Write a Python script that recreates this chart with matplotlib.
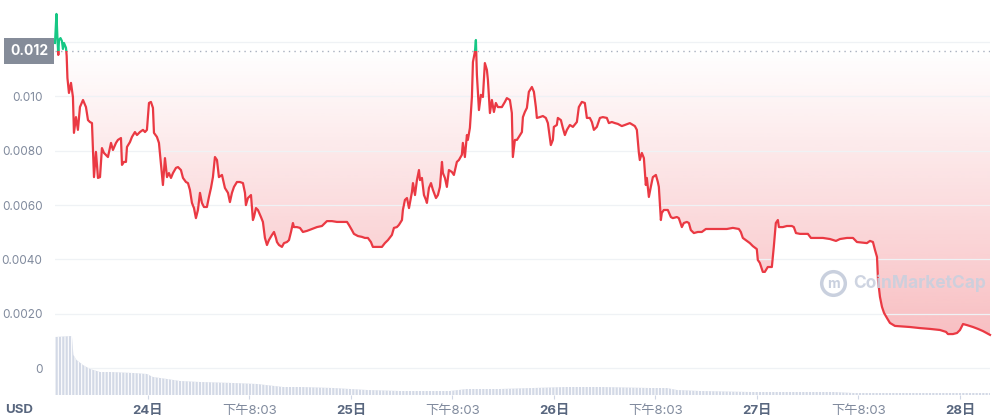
import matplotlib
matplotlib.use("Agg")
import matplotlib.pyplot as plt
import numpy as np
from matplotlib.patches import Polygon, Rectangle
from matplotlib.lines import Line2D
from matplotlib.colors import to_rgb
from matplotlib.transforms import blended_transform_factory

plt.rcParams['font.family'] = ['Inter', 'Noto Sans CJK SC', 'DejaVu Sans']
plt.rcParams['hatch.linewidth'] = 0.8

# price, hours after 24日 00:00
hours = [
    -10.99, -10.82, -10.70, -10.60, -10.52, -10.34, -10.17, -10.05, -9.93, -9.69,
    -9.61, -9.52, -9.34, -9.10, -8.87, -8.75, -8.51, -8.28, -8.04, -7.68,
    -7.33, -7.09, -6.86, -6.62, -6.38, -6.15, -5.91, -5.67, -5.44, -5.20,
    -4.73, -4.37, -4.14, -3.78, -3.55, -3.19, -3.07, -2.84, -2.60, -2.48,
    -2.13, -1.89, -1.54, -1.30, -0.95, -0.59, -0.35, -0.12, 0.12, 0.35,
    0.59, 0.71, 1.06, 1.30, 1.54, 1.77, 2.01, 2.25, 2.48, 2.72,
    2.96, 3.31, 3.55, 3.90, 4.14, 4.49, 4.73, 4.96, 5.20, 5.44,
    5.67, 5.91, 6.15, 6.38, 6.62, 6.97, 7.21, 7.45, 7.68, 7.92,
    8.16, 8.39, 8.75, 9.10, 9.46, 9.69, 9.93, 10.17, 10.52, 10.87,
    11.23, 11.47, 11.58, 11.82, 12.18, 12.29, 12.41, 12.53, 12.77, 13.00,
    13.36, 13.59, 13.83, 14.07, 14.30, 14.66, 14.90, 15.13, 15.25, 15.49,
    15.84, 16.08, 16.43, 16.67, 16.91, 17.14, 17.26, 17.61, 17.97, 18.32,
    18.80, 19.39, 19.98, 20.57, 20.93, 21.16, 21.75, 22.34, 22.93, 23.53,
    23.76, 24.11, 24.35, 24.82, 25.29, 25.65, 26.00, 26.36, 26.59, 27.07,
    27.66, 28.01, 28.37, 28.84, 29.08, 29.43, 29.67, 30.03, 30.14, 30.38,
    30.62, 30.86, 31.21, 31.33, 31.57, 31.80, 32.04, 32.16, 32.39, 32.63,
    32.87, 32.98, 33.22, 33.46, 33.69, 34.05, 34.28, 34.52, 34.76, 34.87,
    35.11, 35.34, 35.58, 35.93, 36.17, 36.52, 36.76, 37.11, 37.23, 37.47,
    37.71, 37.82, 38.06, 38.30, 38.42, 38.65, 38.77, 38.89, 39.13, 39.36,
    39.60, 39.83, 40.07, 40.19, 40.43, 40.66, 40.90, 41.13, 41.37, 41.84,
    42.20, 42.43, 42.79, 43.02, 43.14, 43.38, 43.62, 43.85, 44.21, 44.33,
    44.56, 44.80, 45.03, 45.39, 45.63, 45.86, 45.98, 46.33, 46.69, 47.04,
    47.28, 47.63, 47.87, 47.99, 48.34, 48.46, 48.82, 49.05, 49.29, 49.53,
    49.88, 50.24, 50.71, 50.94, 51.30, 51.65, 51.89, 52.24, 52.48, 52.72,
    53.07, 53.43, 53.78, 54.25, 54.49, 54.84, 55.20, 55.55, 56.02, 56.38,
    56.97, 57.56, 57.80, 58.04, 58.15, 58.39, 58.63, 58.86, 58.98, 59.22,
    59.45, 59.69, 60.05, 60.28, 60.40, 60.64, 60.75, 60.99, 61.46, 61.82,
    62.05, 62.53, 62.76, 63.12, 63.35, 63.71, 63.95, 64.18, 64.54, 65.01,
    65.48, 65.96, 66.78, 67.61, 68.44, 69.15, 69.86, 70.09, 70.33, 70.80,
    71.16, 71.51, 71.98, 72.10, 72.34, 72.69, 72.93, 73.28, 73.76, 73.99,
    74.23, 74.47, 74.59, 75.06, 75.53, 76.12, 76.36, 76.61, 77.08, 78.02,
    78.38, 79.09, 79.80, 80.63, 81.34, 81.81, 82.64, 83.35, 83.82, 85.00,
    85.36, 85.71, 85.95, 86.19, 86.31, 86.54, 86.78, 87.02, 87.37, 87.72,
    88.31, 90.09, 91.27, 92.45, 93.64, 94.35, 94.58, 95.17, 95.65, 96.00,
    96.36, 96.83, 97.54, 98.13, 98.72, 99.55]

price = [
    0.01197, 0.01304, 0.01215, 0.01153, 0.01208, 0.01215, 0.01204, 0.01175, 0.01197, 0.01179,
    0.01149, 0.01068, 0.01013, 0.01050, 0.00998, 0.00866, 0.00924, 0.00877, 0.00961, 0.00987,
    0.00961, 0.00913, 0.00906, 0.00902, 0.00703, 0.00796, 0.00700, 0.00703, 0.00810, 0.00792,
    0.00777, 0.00829, 0.00803, 0.00829, 0.00840, 0.00847, 0.00748, 0.00759, 0.00759, 0.00814,
    0.00832, 0.00851, 0.00869, 0.00858, 0.00869, 0.00877, 0.00869, 0.00877, 0.00976, 0.00980,
    0.00958, 0.00866, 0.00851, 0.00829, 0.00748, 0.00674, 0.00773, 0.00703, 0.00718, 0.00700,
    0.00718, 0.00737, 0.00740, 0.00729, 0.00700, 0.00685, 0.00681, 0.00656, 0.00608, 0.00589,
    0.00552, 0.00582, 0.00645, 0.00608, 0.00593, 0.00593, 0.00630, 0.00663, 0.00703, 0.00777,
    0.00766, 0.00703, 0.00711, 0.00663, 0.00645, 0.00611, 0.00645, 0.00667, 0.00685, 0.00685,
    0.00681, 0.00645, 0.00600, 0.00626, 0.00637, 0.00593, 0.00545, 0.00556, 0.00589, 0.00582,
    0.00556, 0.00538, 0.00479, 0.00453, 0.00471, 0.00490, 0.00501, 0.00479, 0.00464, 0.00453,
    0.00446, 0.00460, 0.00464, 0.00471, 0.00501, 0.00534, 0.00519, 0.00519, 0.00516, 0.00501,
    0.00505, 0.00512, 0.00519, 0.00523, 0.00534, 0.00541, 0.00541, 0.00538, 0.00538, 0.00538,
    0.00527, 0.00508, 0.00494, 0.00486, 0.00483, 0.00479, 0.00479, 0.00464, 0.00446, 0.00446,
    0.00446, 0.00460, 0.00471, 0.00490, 0.00516, 0.00519, 0.00527, 0.00545, 0.00582, 0.00619,
    0.00626, 0.00589, 0.00648, 0.00681, 0.00637, 0.00692, 0.00729, 0.00692, 0.00700, 0.00637,
    0.00619, 0.00608, 0.00663, 0.00681, 0.00656, 0.00626, 0.00637, 0.00667, 0.00759, 0.00718,
    0.00700, 0.00667, 0.00729, 0.00722, 0.00711, 0.00759, 0.00766, 0.00785, 0.00829, 0.00777,
    0.00858, 0.00840, 0.00884, 0.00998, 0.01127, 0.01164, 0.01208, 0.01079, 0.00950, 0.01006,
    0.00998, 0.01123, 0.01098, 0.01061, 0.00939, 0.00987, 0.00943, 0.00976, 0.00961, 0.00961,
    0.00980, 0.00994, 0.00987, 0.00939, 0.00777, 0.00840, 0.00840, 0.00851, 0.00869, 0.00924,
    0.00943, 0.00958, 0.01017, 0.01035, 0.01017, 0.00961, 0.00921, 0.00924, 0.00928, 0.00921,
    0.00902, 0.00821, 0.00840, 0.00888, 0.00895, 0.00921, 0.00913, 0.00884, 0.00858, 0.00877,
    0.00895, 0.00888, 0.00906, 0.00961, 0.00980, 0.00976, 0.00921, 0.00921, 0.00906, 0.00877,
    0.00888, 0.00921, 0.00924, 0.00921, 0.00902, 0.00906, 0.00902, 0.00899, 0.00891, 0.00895,
    0.00902, 0.00891, 0.00877, 0.00792, 0.00766, 0.00792, 0.00773, 0.00674, 0.00700, 0.00630,
    0.00667, 0.00703, 0.00711, 0.00685, 0.00667, 0.00545, 0.00571, 0.00582, 0.00582, 0.00556,
    0.00552, 0.00556, 0.00552, 0.00519, 0.00534, 0.00538, 0.00534, 0.00508, 0.00497, 0.00501,
    0.00501, 0.00512, 0.00512, 0.00512, 0.00512, 0.00516, 0.00512, 0.00501, 0.00479, 0.00468,
    0.00460, 0.00449, 0.00438, 0.00398, 0.00387, 0.00354, 0.00354, 0.00372, 0.00372, 0.00446,
    0.00534, 0.00545, 0.00519, 0.00519, 0.00523, 0.00523, 0.00519, 0.00497, 0.00494, 0.00494,
    0.00479, 0.00479, 0.00479, 0.00475, 0.00468, 0.00475, 0.00479, 0.00479, 0.00464, 0.00460,
    0.00468, 0.00464, 0.00435, 0.00409, 0.00324, 0.00262, 0.00225, 0.00203, 0.00184, 0.00166,
    0.00155, 0.00151, 0.00147, 0.00144, 0.00140, 0.00133, 0.00125, 0.00125, 0.00129, 0.00140,
    0.00162, 0.00158, 0.00151, 0.00144, 0.00136, 0.00122]

base_price = 0.01168   # opening price, the dotted reference line

# volume (relative units)
vol_hours = [-10.99, -8.99, -8.81, -8.44, -7.68, -6.86, -5.67, -4.49, -1.77, -0.12,
             0.59, 2.25, 3.78, 6.15, 10.05, 12.89, 15.96, 17.97, 21.87, 23.88,
             25.89, 29.79, 35.70, 37.71, 41.61, 49.53, 53.43, 59.34, 61.34, 62.53,
             65.25, 71.16, 80.99, 83.35, 99.55]
vol = [58, 59, 40, 35, 30, 26, 23, 23, 22, 21,
       18, 16, 14, 13, 12, 11, 8, 8, 7, 6,
       5, 4, 4, 6, 6, 8, 8, 7, 7, 5,
       4, 3, 3, 2, 2]

x_ticks = [0, 12, 24, 36, 48, 60, 72, 84, 96]
x_labels = ['24日', '下午8:03', '25日', '下午8:03', '26日', '下午8:03', '27日', '下午8:03', '28日']
y_ticks = [0, 0.002, 0.004, 0.006, 0.008, 0.010, 0.012]
y_labels = ['0', '0.0020', '0.0040', '0.0060', '0.0080', '0.010', '0.012']

RED = '#ea3943'
GREEN = '#16c784'
t_min, t_max = -10.99, 99.55
y_min, y_max = -0.000994, 0.013369

fig = plt.figure(figsize=(10, 4.2), dpi=100)
rect = [0.055, 25 / 420, 0.935, 390 / 420]
ax = fig.add_axes(rect, zorder=1)
axv = fig.add_axes(rect, zorder=2)
axv.patch.set_alpha(0)

t = np.array(hours)
p = np.array(price)

# gradient fill between the line and the reference line
lower = np.minimum(p, base_price)
verts = np.column_stack([np.r_[t, t[::-1]], np.r_[lower, np.full(len(t), base_price)]])
poly = Polygon(verts, closed=True, transform=ax.transData, facecolor='none', edgecolor='none')
ax.add_patch(poly)
n = 256
grad = np.zeros((n, 1, 4))
grad[..., :3] = to_rgb(RED)
grad[:, 0, 3] = np.linspace(0.36, 0.0, n)
im = ax.imshow(grad, extent=[t_min, t_max, 0, base_price], origin='lower',
               aspect='auto', interpolation='bilinear', zorder=1)
im.set_clip_path(poly)

red_line, = ax.plot(t, p, color=RED, lw=1.6, zorder=3, solid_joinstyle='round')
red_line.set_clip_path(Rectangle((t_min - 10, -1), 200, 1 + base_price, transform=ax.transData))
green_line, = ax.plot(t, p, color=GREEN, lw=1.6, zorder=3, solid_joinstyle='round')
green_line.set_clip_path(Rectangle((t_min - 10, base_price), 200, 1, transform=ax.transData))

ax.axhline(base_price, color='#a8b0bf', lw=1, ls=(0, (1, 3)), zorder=2)

ax.set_xlim(t_min, t_max)
ax.set_ylim(y_min, y_max)
ax.set_yticks(y_ticks)
ax.set_yticklabels(y_labels)
ax.set_xticks(x_ticks)
ax.set_xticklabels(x_labels)
ax.yaxis.grid(True, color='#eff2f5', lw=0.9)
for s in ax.spines.values():
    s.set_visible(False)
ax.tick_params(axis='y', length=0, pad=9, labelcolor='#808a9d', labelsize=8.5)
ax.tick_params(axis='x', length=3, color='#cfd6e4', pad=4, labelsize=9.5)
for i, lab in enumerate(ax.get_xticklabels()):
    if i % 2 == 0:
        lab.set_fontweight('bold')
        lab.set_color('#58667e')
    else:
        lab.set_color('#808a9d')

# volume area with thin white stripes
axv.fill_between(vol_hours, 0, vol, facecolor='#d3d9e6', edgecolor='white',
                 hatch='|||||', linewidth=0)
axv.set_xlim(t_min, t_max)
axv.set_ylim(0, 390)
axv.axis('off')

# current price tag
tr = blended_transform_factory(fig.transFigure, ax.transData)
ax.text(0.029, base_price, '0.012', transform=tr, ha='center', va='center',
        fontsize=10, fontweight='bold', color='white', zorder=5, clip_on=False,
        bbox=dict(boxstyle='square,pad=0.45', facecolor='#858c99', edgecolor='none'))

fig.text(0.005, 1 - 410 / 420, 'USD', fontsize=9.5, fontweight='bold',
         color='#58667e', va='center', ha='left')

# watermark
wm = '#c9d0de'
fig.add_artist(Line2D([0.833], [1 - 283 / 420], marker='o', markersize=17,
                      markerfacecolor='none', markeredgecolor=wm, markeredgewidth=2.5,
                      transform=fig.transFigure))
fig.text(0.833, 1 - 284 / 420, 'm', fontsize=10, fontweight='bold', color=wm,
         ha='center', va='center')
fig.text(0.853, 1 - 283 / 420, 'CoinMarketCap', fontsize=12.5, fontweight='bold',
         color=wm, alpha=0.9, ha='left', va='center')

fig.savefig('out.png', dpi=100)
